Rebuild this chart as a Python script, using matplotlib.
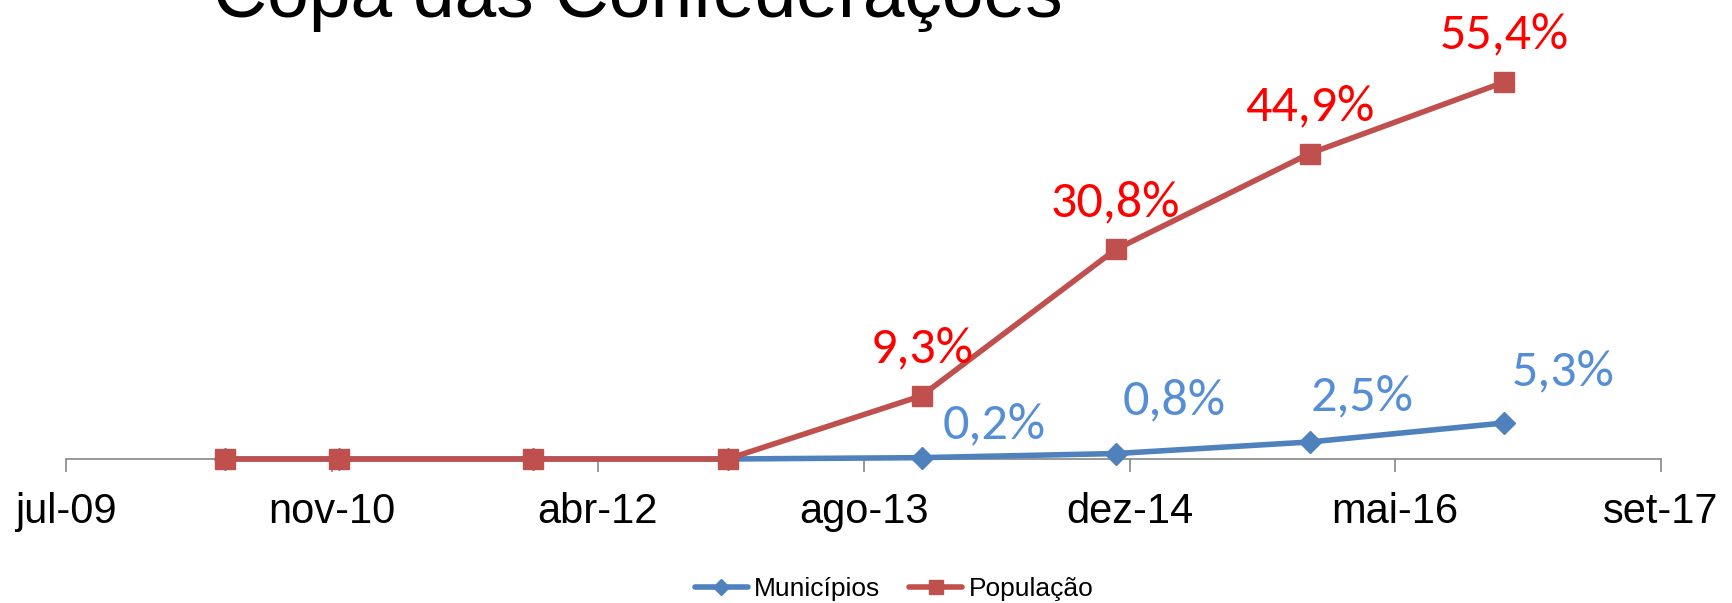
import matplotlib
matplotlib.use("Agg")
import matplotlib.pyplot as plt
from matplotlib import font_manager
from datetime import date, timedelta

# ---- data ----
dates = [date(2010, 5, 1), date(2010, 12, 1), date(2011, 12, 1), date(2012, 12, 1),
         date(2013, 12, 1), date(2014, 12, 1), date(2015, 12, 1), date(2016, 12, 1)]
municipios = [0.0, 0.0, 0.0, 0.0, 0.2, 0.8, 2.5, 5.3]
populacao = [0.0, 0.0, 0.0, 0.0, 9.3, 30.8, 44.9, 55.4]
mun_labels = [None, None, None, None, "0,2%", "0,8%", "2,5%", "5,3%"]
pop_labels = [None, None, None, None, "9,3%", "30,8%", "44,9%", "55,4%"]
tick_labels = ["jul-09", "nov-10", "abr-12", "ago-13", "dez-14", "mai-16", "set-17"]
title = "Copa das Confederações"
series_names = ["Municípios", "População"]

axis_start = date(2009, 7, 6)
tick_step_days = 500

avail = {f.name for f in font_manager.fontManager.ttflist}
def pick(*names):
    for n in names:
        if n in avail:
            return n
    return "DejaVu Sans"

sans = pick("Liberation Sans", "Arial", "DejaVu Sans")
label_font = pick("Carlito", "Open Sans", "Lato")
label_size = 37.5 if label_font == "Carlito" else 34

fig = plt.figure(figsize=(17.33, 6.03), dpi=100)
ax = fig.add_axes([0.0383, 0.2388, 0.9202, 0.677])

blue = "#4F81BD"
red = "#C0504D"

ax.plot(dates, municipios, color=blue, lw=4, marker="D", markersize=11,
        solid_capstyle="round", zorder=3, label=series_names[0])
ax.plot(dates, populacao, color=red, lw=4, marker="s", markersize=14,
        solid_capstyle="round", zorder=4, label=series_names[1])

# data labels
for d, v, t in zip(dates, populacao, pop_labels):
    if t:
        ax.annotate(t, (d, v), xytext=(0, 34), textcoords="offset points",
                    ha="center", va="center", color="#FF0000",
                    fontsize=label_size, family=label_font, zorder=5)
mun_offsets = [None, None, None, None, (52, 24), (42, 38), (38, 33), (42, 37)]
for d, v, t, off in zip(dates, municipios, mun_labels, mun_offsets):
    if t:
        ax.annotate(t, (d, v), xytext=off, textcoords="offset points",
                    ha="center", va="center", color="#558ED5",
                    fontsize=label_size, family=label_font, zorder=5)

ticks = [axis_start + timedelta(days=tick_step_days * i) for i in range(len(tick_labels))]
ax.set_xlim(ticks[0], ticks[-1])
ax.set_ylim(0, 60)
ax.set_xticks(ticks)
ax.set_xticklabels(tick_labels, fontsize=30, family=sans)
ax.set_yticks([])
for s in ["top", "right", "left"]:
    ax.spines[s].set_visible(False)
ax.spines["bottom"].set_color("#868686")
ax.spines["bottom"].set_linewidth(1.2)
ax.tick_params(axis="x", direction="out", length=9.4, width=1.2, color="#868686",
               pad=14)
for line in ax.lines:
    line.set_clip_on(False)

fig.text(0.368, 0.972, title, ha="center", va="baseline", fontsize=54,
         family=sans, color="black")

leg = fig.legend(loc="center", bbox_to_anchor=(0.516, 0.023), ncol=2, frameon=False,
                 prop={"family": sans, "size": 19}, handlelength=2.0,
                 handletextpad=0.25, columnspacing=1.1, markerscale=0.7)

fig.savefig("out.png", dpi=100)
